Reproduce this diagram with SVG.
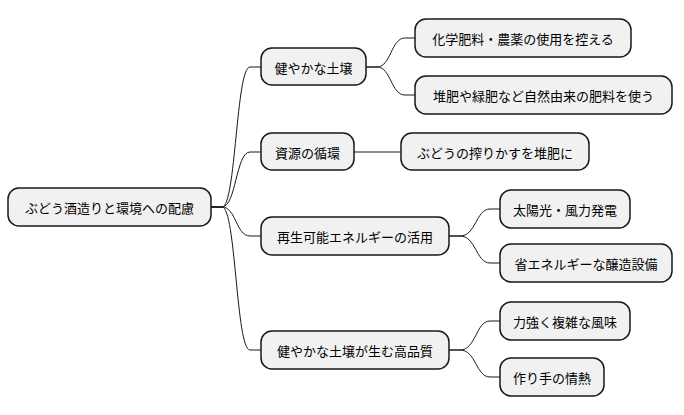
<svg xmlns="http://www.w3.org/2000/svg" width="684" height="415" viewBox="0 0 684 415">
<style>
.n rect{fill:#f1f1f1;stroke:#181818;stroke-width:1.5}
.n text{font-family:"Noto Sans CJK JP","Noto Sans CJK SC",sans-serif;font-size:13px;fill:#000;text-anchor:middle;dominant-baseline:central}
.c path{fill:none;stroke:#181818;stroke-width:1}
</style>
<rect width="684" height="415" fill="#fff"/>
<g class="c">
<path d="M211,207 L222,207 C236,207 236,67 250,67 L261,67"/>
<path d="M211,207 L222,207 C236,207 236,152 250,152 L261,152"/>
<path d="M211,207 L222,207 C236,207 236,236 250,236 L261,236"/>
<path d="M211,207 L222,207 C236,207 236,350 250,350 L261,350"/>
<path d="M366,67 L377,67 C391,67 391,38 405,38 L415,38"/>
<path d="M366,67 L377,67 C391,67 391,95 405,95 L415,95"/>
<path d="M354,152 L401,152"/>
<path d="M449,236 L460,236 C476,236 476,209 490,209 L500,209"/>
<path d="M449,236 L460,236 C476,236 476,263 490,263 L500,263"/>
<path d="M449,350 L460,350 C476,350 476,321 490,321 L500,321"/>
<path d="M449,350 L460,350 C476,350 476,377 490,377 L500,377"/>
</g>
<g id="root" class="n"><rect x="8" y="188" width="203" height="38" rx="11"/><text x="109.5" y="207">ぶどう酒造りと環境への配慮</text></g>
<g id="n1" class="n"><rect x="261" y="48" width="105" height="37" rx="11"/><text x="313.5" y="67">健やかな土壌</text></g>
<g id="n2" class="n"><rect x="261" y="133" width="93" height="37" rx="11"/><text x="307.5" y="152">資源の循環</text></g>
<g id="n3" class="n"><rect x="261" y="217" width="188" height="38" rx="11"/><text x="355" y="236">再生可能エネルギーの活用</text></g>
<g id="n4" class="n"><rect x="261" y="331" width="188" height="38" rx="11"/><text x="355" y="350">健やかな土壌が生む高品質</text></g>
<g id="n11" class="n"><rect x="415" y="19" width="216" height="38" rx="11"/><text x="523" y="38">化学肥料・農薬の使用を控える</text></g>
<g id="n12" class="n"><rect x="415" y="76" width="257" height="38" rx="11"/><text x="543.5" y="95">堆肥や緑肥など自然由来の肥料を使う</text></g>
<g id="n21" class="n"><rect x="401" y="133" width="188" height="37" rx="11"/><text x="495" y="152">ぶどうの搾りかすを堆肥に</text></g>
<g id="n31" class="n"><rect x="500" y="190" width="130" height="38" rx="11"/><text x="565" y="209">太陽光・風力発電</text></g>
<g id="n32" class="n"><rect x="500" y="244" width="172" height="38" rx="11"/><text x="586" y="263">省エネルギーな醸造設備</text></g>
<g id="n41" class="n"><rect x="500" y="302" width="130" height="38" rx="11"/><text x="565" y="321">力強く複雑な風味</text></g>
<g id="n42" class="n"><rect x="500" y="358" width="104" height="38" rx="11"/><text x="552" y="377">作り手の情熱</text></g>
</svg>
